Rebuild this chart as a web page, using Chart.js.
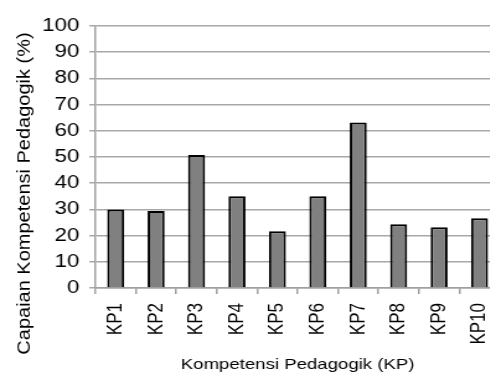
<!DOCTYPE html>
<html>
<head>
<meta charset="utf-8">
<script src="https://cdn.jsdelivr.net/npm/chart.js@4/dist/chart.umd.min.js"></script>
<style>
  html, body { margin:0; padding:0; background:#fff; overflow:hidden; }
  /* the reference picture is stretched sideways, so draw narrower and stretch */
  #wrap { position:relative; width:413px; height:374px; transform:scaleX(1.24); transform-origin:0 0; }
</style>
</head>
<body>
<div id="wrap"><canvas id="c"></canvas></div>
<script>
const categories = ['KP1','KP2','KP3','KP4','KP5','KP6','KP7','KP8','KP9','KP10'];
const capaian = [30, 29.4, 50.8, 35, 21.7, 35, 63.2, 24.3, 23.2, 26.6];
const yTitle = 'Capaian Kompetensi Pedagogik (%)';
const xTitle = 'Kompetensi Pedagogik (KP)';

const font = 'Liberation Sans, Arial, sans-serif';

// y title sits lower than the plot middle and is drawn tall in the reference
const yTitlePlugin = {
  id:'yTitle',
  afterDraw(chart){
    const c = chart.ctx;
    c.save();
    c.translate(19.5, 193.5);
    c.rotate(-Math.PI/2);
    c.scale(1.29, 1);
    c.font = '15.5px ' + font;
    c.fillStyle = '#000';
    c.textAlign = 'center';
    c.textBaseline = 'middle';
    c.fillText(yTitle, 0, 0);
    c.restore();
  }
};

const ctx = document.getElementById('c').getContext('2d');
new Chart(ctx, {
  type:'bar',
  data:{ labels: categories,
    datasets:[
      { data:capaian, backgroundColor:'#808080', borderColor:'#000', borderWidth:2,
        barPercentage:0.42, categoryPercentage:1 }
    ]
  },
  options:{
    responsive:true, maintainAspectRatio:false, animation:false,
    layout:{ padding:{ left:0, top:26, right:10, bottom:0 } },
    plugins:{ legend:{ display:false }, tooltip:{ enabled:false } },
    scales:{
      x:{
        grid:{ drawOnChartArea:false, drawTicks:true, tickLength:6, color:'#a0a0a0', lineWidth:1.5 },
        border:{ color:'#a0a0a0', width:1.5 },
        ticks:{ minRotation:90, maxRotation:90, color:'#000', font:{ family:font, size:17 }, padding:9 },
        title:{ display:true, text:xTitle, color:'#000', font:{ family:font, size:15 }, padding:{ top:10, bottom:0 } },
        afterFit:(s)=>{ s.height = 86; s.paddingLeft = 0; s.paddingRight = 0; }
      },
      y:{
        min:0, max:100,
        grid:{ color:'#a8a8a8', lineWidth:1.5, tickLength:5 },
        border:{ color:'#a0a0a0', width:1.5 },
        ticks:{ stepSize:10, color:'#000', font:{ family:font, size:18 }, padding:8 },
        afterFit:(s)=>{ s.width = 77; }
      }
    }
  },
  plugins:[yTitlePlugin]
});
</script>
</body>
</html>
